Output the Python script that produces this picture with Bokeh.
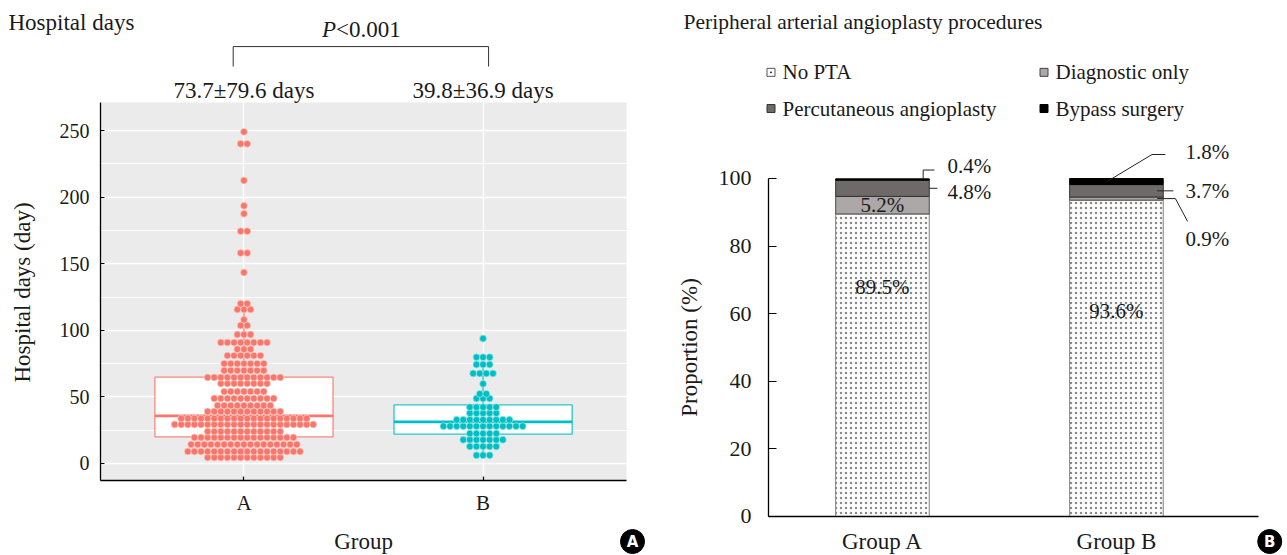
import numpy as np
from bokeh.plotting import figure
from bokeh.models import ColumnDataSource, FixedTicker, Range1d
from bokeh.layouts import row
from bokeh.embed import file_html
from bokeh.resources import INLINE
from bokeh.core.properties import value

FONT = "Liberation Serif"
TXT = "#1a1a1a"

# ---------------- Panel A data ----------------
group_labels = ["A", "B"]
group_x = [1, 2]
a_row_days = [4.5, 9, 14.3, 19.5, 24, 29.3, 33.8, 39, 43.5, 48.8, 54, 60, 64.6, 69.8,
              75, 81, 85.8, 90.8, 96.8, 103.6, 108, 115.6, 120, 143.4, 158, 174.4,
              187.5, 193.5, 212.5, 240, 249]
a_row_counts = [12, 18, 17, 16, 12, 22, 20, 12, 9, 10, 7, 8, 12, 7,
                7, 6, 3, 8, 3, 2, 1, 3, 2, 1, 2, 2,
                1, 1, 1, 2, 1]
b_row_days = [6.2, 12.8, 17.8, 22.5, 28, 32.8, 37.8, 42.3, 48.8, 52.3, 59.8, 67.6, 74.3, 79.8, 93.8]
b_row_counts = [3, 5, 7, 5, 13, 9, 5, 5, 3, 2, 1, 4, 3, 3, 1]
box_q1 = [20.0, 22.0]
box_median = [35.8, 31.3]
box_q3 = [64.8, 44.0]
whisker_low = [4.5, 6.2]
whisker_high = [120.0, 74.3]
mean_sd_labels = ["73.7\u00b179.6 days", "39.8\u00b136.9 days"]
y_ticks_a = [0, 50, 100, 150, 200, 250]
y_minor_a = [25, 75, 125, 175, 225]
colors_a = ["#F8766D", "#00BFC4"]
halo_a = ["#FCD3C6", "#A8E8EA"]

# ---------------- Panel B data ----------------
bar_groups = ["Group A", "Group B"]
bar_x = [1, 2]
procedures = ["No PTA", "Diagnostic only", "Percutaneous angioplasty", "Bypass surgery"]
no_pta = [89.5, 93.6]
diagnostic = [5.2, 0.9]
pta = [4.8, 3.7]
bypass = [0.4, 1.8]
y_ticks_b = [0, 20, 40, 60, 80, 100]
proc_fill = ["white", "#ABA8A7", "#6E6A69", "black"]
proc_line = ["#7F7F7F", "#4D4D4D", "#333333", "black"]


def style_axis(ax, size):
    ax.axis_line_color = "black"
    ax.axis_line_width = 1.3
    ax.minor_tick_line_color = None
    ax.major_label_text_font = FONT
    ax.major_label_text_font_size = size
    ax.major_label_text_color = TXT


# ================= Panel A =================
# frame covers the whole figure; axes are fixed inside it
A_X0, A_X1 = -0.0182, 2.7337
A_Y0, A_Y1 = -69.07, 347.6
panel_left, panel_right = 0.4, 2.6
panel_bottom, panel_top = -12.76, 271.0

pA = figure(width=658, height=555, x_range=Range1d(A_X0, A_X1), y_range=Range1d(A_Y0, A_Y1),
            min_border=0, min_border_left=0, min_border_right=0, min_border_top=0,
            min_border_bottom=0, output_backend="svg", toolbar_location=None)
pA.outline_line_color = None

pA.quad(left=panel_left, right=panel_right, bottom=panel_bottom, top=panel_top,
        fill_color="#EBEBEB", line_color=None, level="image")

pA.ygrid.ticker = FixedTicker(ticks=y_ticks_a, minor_ticks=y_minor_a)
pA.ygrid.grid_line_color = "white"
pA.ygrid.grid_line_width = 1.4
pA.ygrid.minor_grid_line_color = "white"
pA.ygrid.minor_grid_line_width = 1.0
pA.xgrid.ticker = FixedTicker(ticks=group_x)
pA.xgrid.grid_line_color = "white"
pA.xgrid.grid_line_width = 1.4

pA.yaxis.ticker = FixedTicker(ticks=y_ticks_a, minor_ticks=[])
pA.yaxis.bounds = (panel_bottom, panel_top)
pA.yaxis.fixed_location = panel_left
pA.xaxis.ticker = FixedTicker(ticks=group_x)
pA.xaxis.major_label_overrides = {x: l for x, l in zip(group_x, group_labels)}
pA.xaxis.bounds = (panel_left, panel_right)
pA.xaxis.fixed_location = panel_bottom
style_axis(pA.yaxis, "20px")
style_axis(pA.xaxis, "21px")
for ax in (pA.xaxis, pA.yaxis):
    ax.major_tick_line_color = "black"
    ax.major_tick_line_width = 1.2
    ax.major_tick_in = 4
    ax.major_tick_out = 0
pA.yaxis.major_label_standoff = 11
pA.xaxis.major_label_standoff = 11

# box plots
box_w = 0.745
srcbox = ColumnDataSource(dict(
    x=group_x, q1=box_q1, q3=box_q3, med=box_median, lo=whisker_low, hi=whisker_high,
    x0=[x - box_w / 2 for x in group_x], x1=[x + box_w / 2 for x in group_x], color=colors_a))
pA.segment(x0="x", y0="lo", x1="x", y1="hi", line_color="color", line_width=1.2, source=srcbox)
pA.vbar(x="x", width=box_w, bottom="q1", top="q3", fill_color="white", line_color="color",
        line_alpha=0.85, line_width=1.3, source=srcbox)
pA.segment(x0="x0", y0="med", x1="x1", y1="med", line_color="color", line_width=2.8, source=srcbox)

# beeswarm dots
dot_step = 6.6 / 239.1


def swarm(center, rows, counts):
    xs, ys = [], []
    for yv, n in zip(rows, counts):
        offs = (np.arange(n) - (n - 1) / 2.0) * dot_step
        xs.extend(list(center + offs))
        ys.extend([yv] * n)
    return xs, ys


for cx, rows_, counts_, col, halo in zip(group_x, [a_row_days, b_row_days],
                                         [a_row_counts, b_row_counts], colors_a, halo_a):
    xs, ys = swarm(cx, rows_, counts_)
    pA.scatter(xs, ys, size=6.9, fill_color=col, line_color=halo, line_width=0.7)

# texts and bracket
pA.text(x=group_x, y=[280] * 2, text=mean_sd_labels, text_font=value(FONT),
        text_font_size="23px", text_align="center", text_baseline="middle", text_color=TXT)
pA.line(x=[0.955, 0.955, 2.023, 2.023], y=[298, 313, 313, 298], line_color="#333333", line_width=1)
pA.text(x=[1.385], y=[325.8], text=["P"], text_font=value(FONT), text_font_size="23px",
        text_font_style="italic", text_align="right", text_baseline="middle", text_color=TXT)
pA.text(x=[1.385], y=[325.8], text=["<0.001"], text_font=value(FONT), text_font_size="23px",
        text_align="left", text_baseline="middle", text_color=TXT)
pA.text(x=[0.0152], y=[331.1], text=["Hospital days"], text_font=value(FONT),
        text_font_size="23px", text_align="left", text_baseline="middle", text_color=TXT)
pA.text(x=[0.074], y=[128.4], text=["Hospital days (day)"], angle=np.pi / 2,
        text_font=value(FONT), text_font_size="23px", text_align="center",
        text_baseline="middle", text_color=TXT)
pA.text(x=[1.5], y=[-58.6], text=["Group"], text_font=value(FONT), text_font_size="23px",
        text_align="center", text_baseline="middle", text_color=TXT)
# panel badge
pA.scatter(x=[2.625], y=[-58.6], size=24, marker="circle", fill_color="black", line_color="black")
pA.text(x=[2.625], y=[-58.6], text=["A"], text_font=value("DejaVu Sans"), text_font_size="15px",
        text_font_style="bold", text_color="white", text_align="center", text_baseline="middle")

# ================= Panel B =================
B_X0, B_X1 = 0.0429, 2.7310
B_Y0, B_Y1 = -11.54, 152.66
axis_left, axis_right = 0.513, 2.607

pB = figure(width=629, height=555, x_range=Range1d(B_X0, B_X1), y_range=Range1d(B_Y0, B_Y1),
            min_border=0, min_border_left=0, min_border_right=0, min_border_top=0,
            min_border_bottom=0, output_backend="svg", toolbar_location=None)
pB.outline_line_color = None
pB.grid.visible = False

src = ColumnDataSource(dict(x=bar_x, no_pta=no_pta, diagnostic=diagnostic, pta=pta, bypass=bypass))
stack_cols = ["no_pta", "diagnostic", "pta", "bypass"]
bar_w = 0.4
rs = pB.vbar_stack(stack_cols, x="x", width=bar_w, source=src,
                   fill_color=proc_fill, line_color=proc_line, line_width=1,
                   hatch_pattern=["dot", "blank", "blank", "blank"], hatch_color="#8A8A8A",
                   hatch_scale=5, hatch_weight=0.6)

pB.yaxis.ticker = FixedTicker(ticks=y_ticks_b, minor_ticks=[])
pB.yaxis.bounds = (0, 100)
pB.yaxis.fixed_location = axis_left
pB.xaxis.ticker = FixedTicker(ticks=bar_x)
pB.xaxis.major_label_overrides = {x: l for x, l in zip(bar_x, bar_groups)}
pB.xaxis.bounds = (axis_left, axis_right)
pB.xaxis.fixed_location = 0
style_axis(pB.yaxis, "22px")
style_axis(pB.xaxis, "23px")
pB.yaxis.major_tick_line_color = "black"
pB.yaxis.major_tick_line_width = 1.2
pB.yaxis.major_tick_in = 8
pB.yaxis.major_tick_out = 0
pB.yaxis.major_label_standoff = 17
pB.xaxis.major_tick_line_color = None
pB.xaxis.major_tick_in = 0
pB.xaxis.major_tick_out = 0
pB.xaxis.major_label_standoff = 13

# legend (drawn as keys + labels, two columns)
leg_key_x = [0.5237, 1.6904, 0.5237, 1.6904]
leg_text_x = [0.5728, 1.7395, 0.5728, 1.7395]
leg_y = [131.4, 131.4, 120.7, 120.7]
pB.scatter(x=leg_key_x, y=leg_y, marker="square", size=8, fill_color=proc_fill,
           line_color=["#555555", "#444444", "#333333", "black"], line_width=1)
pB.scatter(x=leg_key_x[:1], y=leg_y[:1], marker="circle", size=1.8, fill_color="black",
           line_color=None)
pB.text(x=leg_text_x, y=leg_y, text=procedures, text_font=value(FONT), text_font_size="21px",
        text_align="left", text_baseline="middle", text_color=TXT)

# value labels
cum = np.cumsum(np.array([no_pta, diagnostic, pta, bypass]), axis=0)
inside_x = [1, 2, 1]
inside_y = [68.0, 60.7, (cum[0][0] + cum[1][0]) / 2]
inside_t = [f"{no_pta[0]}%", f"{no_pta[1]}%", f"{diagnostic[0]}%"]
pB.text(x=inside_x, y=inside_y, text=inside_t, text_font=value(FONT), text_font_size="21px",
        text_align="center", text_baseline="middle", text_color=TXT)
out_x = [1.278, 1.278, 2.295, 2.295, 2.295]
out_y = [103.6, 95.9, 107.7, 96.2, 82.2]
out_t = [f"{bypass[0]}%", f"{pta[0]}%", f"{bypass[1]}%", f"{pta[1]}%", f"{diagnostic[1]}%"]
pB.text(x=out_x, y=out_y, text=out_t, text_font=value(FONT), text_font_size="21px",
        text_align="left", text_baseline="middle", text_color=TXT)

# leader lines
top_a = cum[3][0]
pta_a_mid = (cum[1][0] + cum[2][0]) / 2
byp_b_mid = (cum[2][1] + cum[3][1]) / 2
pta_b_mid = (cum[1][1] + cum[2][1]) / 2
diag_b_mid = (cum[0][1] + cum[1][1]) / 2
right_a = bar_x[0] + bar_w / 2
right_b = bar_x[1] + bar_w / 2
lead_xs = [[right_a - 0.026, right_a - 0.026, right_a + 0.022],
           [right_a, right_a + 0.035],
           [bar_x[1] - 0.04, right_b - 0.048, right_b + 0.009],
           [right_b - 0.026, right_b + 0.043],
           [right_b - 0.026, right_b + 0.052, right_b + 0.104]]
lead_ys = [[top_a, 102.5, 102.5],
           [pta_a_mid, pta_a_mid],
           [byp_b_mid, 107.1, 107.1],
           [pta_b_mid, pta_b_mid],
           [diag_b_mid, diag_b_mid, 87.3]]
pB.multi_line(xs=lead_xs, ys=lead_ys, line_color="#222222", line_width=1)

pB.text(x=[0.150], y=[146.2], text=["Peripheral arterial angioplasty procedures"],
        text_font=value(FONT), text_font_size="21.5px", text_align="left",
        text_baseline="middle", text_color=TXT)
pB.text(x=[0.175], y=[50], text=["Proportion (%)"], angle=np.pi / 2,
        text_font=value(FONT), text_font_size="23px", text_align="center",
        text_baseline="middle", text_color=TXT)
pB.scatter(x=[2.655], y=[-7.4], size=24, marker="circle", fill_color="black", line_color="black")
pB.text(x=[2.655], y=[-7.4], text=["B"], text_font=value("DejaVu Sans"), text_font_size="15px",
        text_font_style="bold", text_color="white", text_align="center", text_baseline="middle")

layout = row(pA, pB)
open("out.html", "w").write(file_html(layout, INLINE))
